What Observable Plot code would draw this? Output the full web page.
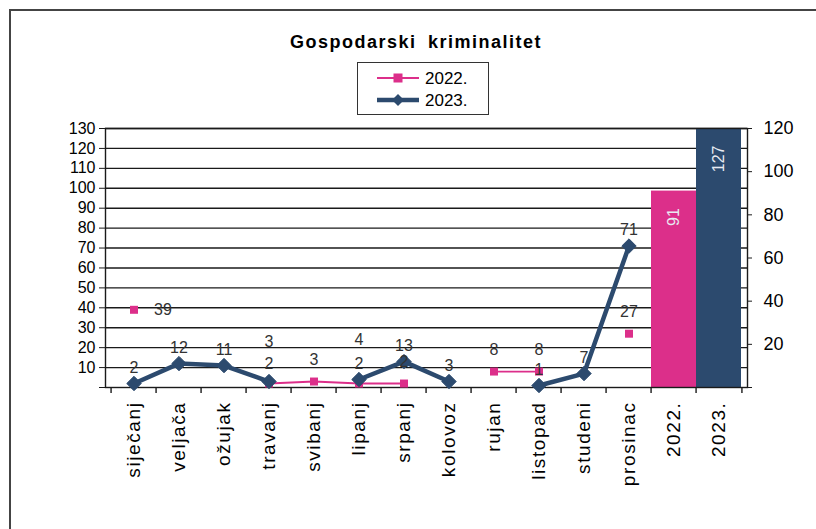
<!DOCTYPE html>
<html><head><meta charset="utf-8">
<script src="https://cdn.jsdelivr.net/npm/d3@7"></script>
<script src="https://cdn.jsdelivr.net/npm/@observablehq/plot@0.6"></script>
<style>
body{margin:0;background:#fff;font-family:"Liberation Sans",Arial,sans-serif;}
#wrap{position:relative;width:816px;height:529px;overflow:hidden;background:#fff}
#frame{position:absolute;left:9px;top:9px;width:900px;height:600px;border-left:2px solid #444;border-top:2px solid #444;}
#title{position:absolute;left:0;width:832px;top:32px;text-align:center;font-weight:bold;font-size:18px;letter-spacing:1.5px;word-spacing:5px;color:#000}
#legend{position:absolute;left:357px;top:62px;width:130px;height:51px;border:1.5px solid #333;background:#fff}
#chart{position:absolute;left:0;top:0}
#chart g[aria-label="x-axis tick label"] text{letter-spacing:1.6px}
</style></head>
<body>
<div id="wrap">
  <div id="frame"></div>
  <div id="chart"></div>
  <div id="title">Gospodarski kriminalitet</div>
  <div id="legend"></div>
</div>
<script>
const months = ["siječanj","veljača","ožujak","travanj","svibanj","lipanj","srpanj","kolovoz","rujan","listopad","studeni","prosinac"];
const years = ["2022.","2023."];
const values2022 = [39, null, null, 2, 3, 2, 2, null, 8, 8, null, 27];
const values2023 = [2, 12, 11, 3, null, 4, 13, 3, null, 1, 7, 71];
const totals = [91, 127];
const leftTicks = d3.range(0, 131, 10);
const rightTicks = d3.range(0, 121, 20);

const pink = "#dc2f8a";
const navy = "#2c4a6e";
const font = "'Liberation Sans', Arial, sans-serif";

const cats = months.concat(years);
const d2022 = months.map((m, i) => ({m, v: values2022[i], other: values2023[i]}));
const d2023 = months.map((m, i) => ({m, v: values2023[i], other: values2022[i]}));
const barData = years.map((c, i) => ({c, v: totals[i]}));
const k = 130 / 120; // right axis (0–120) mapped onto left axis (0–130)
const close = d => d.v != null && d.other != null && Math.abs(d.v - d.other) < 5;

const W = 816, H = 529, mL = 105, mR = 69, mT = 128, mB = 142;
const bw = (W - mL - mR) / cats.length;
const lbl = {fontSize: 16, fill: "#333"};

const chart = Plot.plot({
  width: W, height: H,
  marginLeft: mL, marginRight: mR, marginTop: mT, marginBottom: mB,
  style: {fontFamily: font, fontSize: "15px", color: "#000", background: "transparent"},
  x: {type: "band", domain: cats, padding: 0},
  y: {domain: [0, 130]},
  marks: [
    Plot.gridY(leftTicks.filter(d => d > 0), {stroke: "#1a1a1a", strokeOpacity: 1, strokeWidth: 1.4}),
    Plot.barY(barData.filter(d => d.c === years[0]), {x: "c", y: d => Math.min(d.v, 120) * k, fill: pink}),
    Plot.barY(barData.filter(d => d.c === years[1]), {x: "c", y: d => Math.min(d.v, 120) * k, fill: navy}),
    Plot.text(barData, {x: "c", y: d => Math.min(d.v, 120) * k, text: d => String(d.v), rotate: -90, textAnchor: "end", dy: 17, fill: "#e8eaf2", fontSize: 16}),
    Plot.frame({stroke: "#1a1a1a", strokeWidth: 1.4}),
    Plot.line(d2022, {x: "m", y: "v", stroke: pink, strokeWidth: 1.8}),
    Plot.line(d2023, {x: "m", y: "v", stroke: navy, strokeWidth: 4.5, strokeLinejoin: "miter"}),
    Plot.dot(d2022.filter(d => d.v != null), {x: "m", y: "v", symbol: "square", r: 4.5, fill: pink, stroke: "none"}),
    Plot.dot(d2023.filter(d => d.v != null), {x: "m", y: "v", symbol: "diamond2", r: 6.5, fill: navy, stroke: navy, strokeWidth: 1}),
    Plot.text(d2023.filter(d => d.v != null && !close(d)), {x: "m", y: "v", text: d => String(d.v), dy: -16, ...lbl}),
    Plot.text(d2023.filter(d => close(d)), {x: "m", y: "v", text: d => String(d.v), dy: -40, ...lbl}),
    Plot.text(d2022.filter(d => d.v != null && !close(d) && d.m !== months[0]), {x: "m", y: "v", text: d => String(d.v), dy: -22, ...lbl}),
    Plot.text(d2022.filter(d => close(d)), {x: "m", y: "v", text: d => String(d.v), dy: -20, ...lbl}),
    Plot.text(d2022.filter(d => d.v != null && d.m === months[0]), {x: "m", y: "v", text: d => String(d.v), dx: 20, textAnchor: "start", ...lbl}),
    Plot.axisY({anchor: "left", ticks: leftTicks, tickFormat: d => d === 0 ? "" : d, tickSize: 6, tickPadding: 4, fontSize: 16, label: null, stroke: "#1a1a1a"}),
    Plot.axisY({anchor: "right", ticks: rightTicks.map(v => v * k), tickFormat: d => { const v = Math.round(d / k); return v === 0 ? "" : v; }, tickSize: 4, tickPadding: 12, fontSize: 18, label: null, stroke: "#1a1a1a"}),
    Plot.axisX({tickRotate: -90, tickSize: 0, tickPadding: 14, fontSize: 19, label: null}),
    Plot.ruleX(cats, {x: d => d, y1: 0, y2: -3, dx: -bw / 2, stroke: "#1a1a1a", strokeWidth: 1.4}),
    Plot.ruleX([cats[cats.length - 1]], {x: d => d, y1: 0, y2: -3, dx: bw / 2, stroke: "#1a1a1a", strokeWidth: 1.4})
  ]
});
document.getElementById("chart").appendChild(chart);

// legend
const lg = d3.select("#legend").append("svg").attr("width", 130).attr("height", 51).style("display", "block");
const rows = [{label: years[0], color: pink, w: 1.8, sym: "square", cy: 15}, {label: years[1], color: navy, w: 4.5, sym: "diamond", cy: 37}];
rows.forEach(r => {
  lg.append("line").attr("x1", 19).attr("x2", 61).attr("y1", r.cy).attr("y2", r.cy).attr("stroke", r.color).attr("stroke-width", r.w);
  if (r.sym === "square") lg.append("rect").attr("x", 35.5).attr("y", r.cy - 4.5).attr("width", 9).attr("height", 9).attr("fill", r.color);
  else lg.append("path").attr("d", `M40,${r.cy - 6}L46,${r.cy}L40,${r.cy + 6}L34,${r.cy}Z`).attr("fill", r.color);
  lg.append("text").attr("x", 67).attr("y", r.cy).attr("dy", "0.35em").attr("font-size", 17).attr("font-family", font).attr("fill", "#000").text(r.label);
});
</script>
</body></html>
